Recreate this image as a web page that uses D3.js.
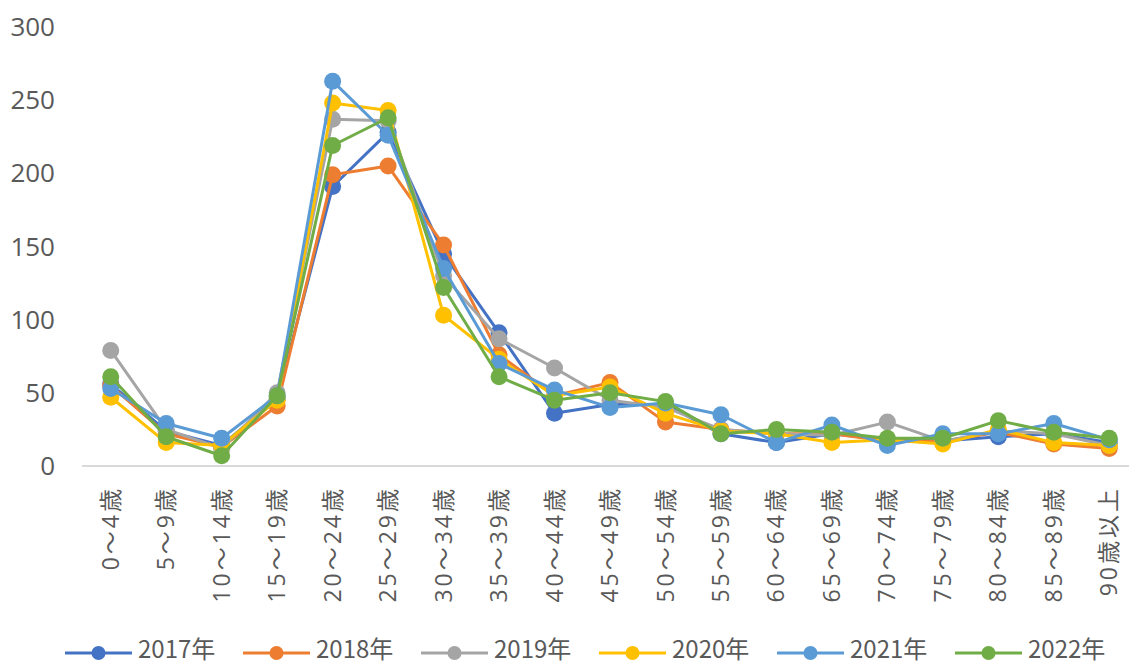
<!DOCTYPE html>
<html>
<head>
<meta charset="utf-8">
<script src="https://cdn.jsdelivr.net/npm/d3@7"></script>
<style>
  body { margin: 0; background: #fff; }
  svg { display: block; }
</style>
</head>
<body>
<svg id="chart" width="1129" height="666"></svg>
<script>
// age groups
const categories = ["0～4歳", "5～9歳", "10～14歳", "15～19歳", "20～24歳", "25～29歳", "30～34歳", "35～39歳", "40～44歳", "45～49歳", "50～54歳", "55～59歳", "60～64歳", "65～69歳", "70～74歳", "75～79歳", "80～84歳", "85～89歳", "90歳以上"];
const years = ["2017年", "2018年", "2019年", "2020年", "2021年", "2022年"];
const colors = ["#4472C4", "#ED7D31", "#A5A5A5", "#FFC000", "#5B9BD5", "#70AD47"];
const yTicks = [0, 50, 100, 150, 200, 250, 300];

const v2017 = [56, 24, 14, 46, 191, 228, 145, 91, 36, 42, 42, 22, 16, 22, 18, 17, 20, 22, 16];
const v2018 = [55, 22, 13, 41, 199, 205, 151, 76, 48, 57, 30, 25, 22, 22, 17, 17, 23, 15, 12];
const v2019 = [79, 25, 12, 50, 237, 236, 130, 87, 67, 45, 40, 25, 22, 21, 30, 17, 24, 22, 14];
const v2020 = [47, 16, 14, 45, 248, 243, 103, 73, 48, 54, 36, 24, 22, 16, 18, 15, 25, 16, 14];
const v2021 = [53, 29, 19, 48, 263, 226, 135, 70, 52, 40, 43, 35, 16, 28, 14, 22, 22, 29, 18];
const v2022 = [61, 20, 7, 48, 219, 238, 122, 61, 45, 50, 44, 22, 25, 23, 19, 19, 31, 23, 19];
const series = [v2017, v2018, v2019, v2020, v2021, v2022];

const svg = d3.select("#chart");
const plotLeft = 83, plotRight = 1137, plotTop = 27, plotBottom = 466;

const x = d3.scaleBand().domain(categories).range([plotLeft, plotRight]);
const y = d3.scaleLinear().domain([0, 300]).range([plotBottom, plotTop]);

// y labels (no axis line in the original)
svg.append("g").selectAll("text").data(yTicks).enter().append("text")
    .attr("x", 55).attr("y", d => y(d)).attr("dy", "0.35em")
    .attr("text-anchor", "end")
    .style("font-family", "'Open Sans', 'Noto Sans', sans-serif")
    .style("font-size", "26px").style("fill", "#595959")
    .text(d => d);

// x axis
const xAxis = svg.append("g").attr("transform", "translate(0," + plotBottom + ")")
    .call(d3.axisBottom(x).tickSize(0).tickPadding(0));
xAxis.select(".domain").attr("stroke", "#d9d9d9").attr("stroke-width", 2)
    .attr("d", "M82,0H1129");
xAxis.selectAll("text")
    .attr("transform", "rotate(-90)")
    .attr("text-anchor", "end")
    .attr("x", -20).attr("y", 0).attr("dy", "0.35em")
    .style("font-family", "'Open Sans', 'Noto Sans CJK JP', sans-serif")
    .style("font-size", "23px").style("letter-spacing", "3px").style("fill", "#595959");

const line = d3.line().x((d, i) => x(categories[i]) + x.bandwidth() / 2).y(d => y(d));

series.forEach(function(vals, k) {
    const g = svg.append("g");
    g.append("path").datum(vals).attr("fill", "none")
        .attr("stroke", colors[k]).attr("stroke-width", 3)
        .attr("stroke-linejoin", "round").attr("d", line);
    g.selectAll("circle").data(vals).enter().append("circle")
        .attr("cx", (d, i) => x(categories[i]) + x.bandwidth() / 2)
        .attr("cy", d => y(d)).attr("r", 8.5)
        .attr("fill", colors[k]);
});

// legend
const legend = svg.append("g").attr("transform", "translate(65,653)");
const items = legend.selectAll("g").data(years).enter().append("g")
    .attr("transform", (d, i) => "translate(" + (i * 178) + ",0)");
items.append("line").attr("x1", 0).attr("x2", 67).attr("y1", 0).attr("y2", 0)
    .attr("stroke", (d, i) => colors[i]).attr("stroke-width", 3);
items.append("circle").attr("cx", 33.5).attr("cy", 0).attr("r", 7)
    .attr("fill", (d, i) => colors[i]);
items.append("text").attr("x", 73).attr("y", 5)
    .style("font-family", "'Liberation Sans Narrow', 'Noto Sans CJK JP', sans-serif")
    .style("font-size", "24px").style("fill", "#595959")
    .text(d => d);
</script>
</body>
</html>
